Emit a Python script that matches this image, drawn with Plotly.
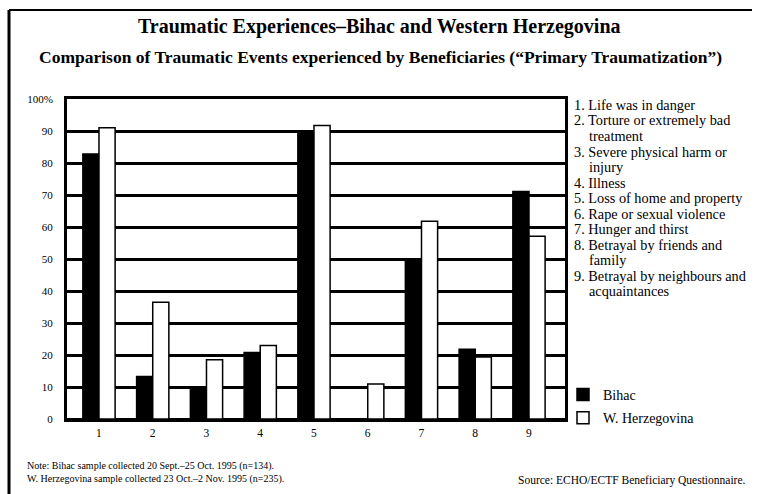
import plotly.graph_objects as go

# ---- data ----
categories = ["1", "2", "3", "4", "5", "6", "7", "8", "9"]
bihac = [82.8, 13.3, 9.3, 20.8, 90.1, 0, 50.0, 21.8, 71.1]
w_herzegovina = [91.0, 36.5, 18.5, 23.0, 91.7, 10.9, 61.8, 19.4, 57.1]
y_tickvals = [0, 10, 20, 30, 40, 50, 60, 70, 80, 90, 100]
y_ticktext = ["0", "10", "20", "30", "40", "50", "60", "70", "80", "90", "100%"]
event_lines = [
    ("1. Life was in danger", False),
    ("2. Torture or extremely bad", False),
    ("treatment", True),
    ("3. Severe physical harm or", False),
    ("injury", True),
    ("4. Illness", False),
    ("5. Loss of home and property", False),
    ("6. Rape or sexual violence", False),
    ("7. Hunger and thirst", False),
    ("8. Betrayal by friends and", False),
    ("family", True),
    ("9. Betrayal by neighbours and", False),
    ("acquaintances", True),
]
title_text = "Traumatic Experiences\u2013Bihac and Western Herzegovina"
subtitle_text = "Comparison of Traumatic Events experienced by Beneficiaries (\u201cPrimary Traumatization\u201d)"
note_text = ("Note: Bihac sample collected 20 Sept.\u201325 Oct. 1995 (n=134).<br>"
             "W. Herzegovina sample collected 23 Oct.\u20132 Nov. 1995 (n=235).")
source_text = "Source: ECHO/ECTF Beneficiary Questionnaire."

# ---- layout geometry (pixels) ----
W, H = 758, 494
L, R, T, B = 67, 193, 99, 75
PW, PH = W - L - R, H - T - B
def px(x):
    return (x - L) / PW
def py(y):
    return (H - B - y) / PH

FONT = "Liberation Serif, Times New Roman, serif"

fig = go.Figure()
fig.add_trace(go.Bar(
    x=categories, y=bihac, name="Bihac", legendgroup="a",
    marker=dict(color="black", line=dict(color="black", width=1.5)),
))
fig.add_trace(go.Bar(
    x=categories, y=w_herzegovina, name="W. Herzegovina", legendgroup="b",
    marker=dict(color="white", line=dict(color="black", width=1.5)),
))

annotations = [
    dict(text="<b>" + title_text + "</b>", x=px(379), y=py(27), xref="paper", yref="paper",
         xanchor="center", yanchor="middle", showarrow=False,
         font=dict(family=FONT, size=20, color="black")),
    dict(text="<b>" + subtitle_text + "</b>", x=px(380), y=py(57), xref="paper", yref="paper",
         xanchor="center", yanchor="middle", showarrow=False,
         font=dict(family=FONT, size=17.5, color="black")),
    dict(text=note_text, x=px(25), y=py(472), xref="paper", yref="paper",
         xanchor="left", yanchor="middle", align="left", showarrow=False,
         font=dict(family=FONT, size=10, color="black")),
    dict(text=source_text, x=px(748), y=py(480), xref="paper", yref="paper",
         xanchor="right", yanchor="middle", showarrow=False,
         font=dict(family=FONT, size=11.5, color="black")),
]
line_h = 15.5
for i, (txt, indent) in enumerate(event_lines):
    annotations.append(dict(
        text=txt, x=px(587 if indent else 572), y=py(105 + i * line_h),
        xref="paper", yref="paper", xanchor="left", yanchor="middle",
        showarrow=False, font=dict(family=FONT, size=14.3, color="black")))

shapes = [
    # outer frame (top and left)
    dict(type="line", xref="paper", yref="paper", x0=px(9), x1=px(752), y0=py(10), y1=py(10),
         line=dict(color="black", width=2)),
    dict(type="line", xref="paper", yref="paper", x0=px(9), x1=px(9), y0=py(10), y1=py(494),
         line=dict(color="black", width=3)),
]

fig.update_layout(
    width=W, height=H,
    margin=dict(l=L, r=R, t=T, b=B, autoexpand=False),
    paper_bgcolor="white", plot_bgcolor="white",
    barmode="group", bargap=0.40, bargroupgap=0,
    font=dict(family=FONT, color="black", size=11),
    showlegend=True,
    legend=dict(x=px(563), y=py(379), xanchor="left", yanchor="top",
                bgcolor="rgba(0,0,0,0)", font=dict(family=FONT, size=14),
                traceorder="grouped", tracegroupgap=2, itemwidth=30),
    annotations=annotations, shapes=shapes,
)
fig.update_xaxes(
    type="category", range=[-0.595, 8.67],
    showgrid=False, ticks="", showline=True, linecolor="black",
    linewidth=3, mirror=True, ticklabelstandoff=1,
    tickfont=dict(family=FONT, size=11.5),
)
fig.update_yaxes(
    range=[0, 100], tickvals=y_tickvals, ticktext=y_ticktext,
    showgrid=True, gridcolor="black", gridwidth=3,
    zeroline=True, zerolinecolor="black", zerolinewidth=3,
    showline=True, linecolor="black", linewidth=3, mirror=True,
    ticks="", ticklabelstandoff=9,
    tickfont=dict(family=FONT, size=11),
)

fig.write_html("out.html", config={"displayModeBar": False},
               post_script="document.body.style.margin='0';document.body.style.overflow='hidden';")
